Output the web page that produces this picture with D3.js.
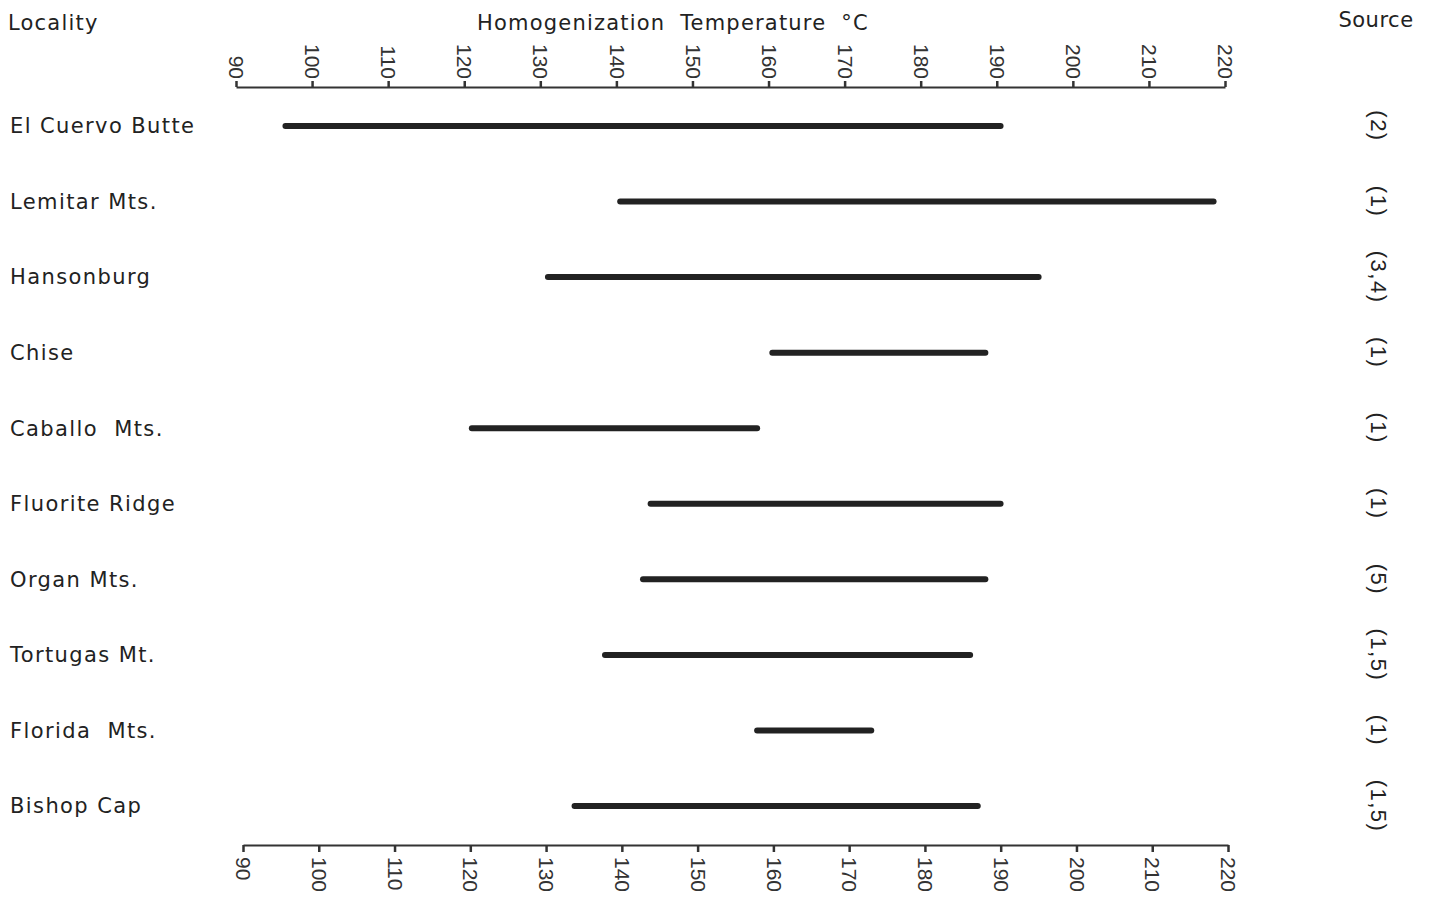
<!DOCTYPE html>
<html>
<head>
<meta charset="utf-8">
<script src="https://cdn.jsdelivr.net/npm/d3@7"></script>
<style>
body { margin: 0; background: #fff; }
text { font-family: "DejaVu Sans", "Liberation Sans", sans-serif; fill: #222; }
</style>
</head>
<body>
<div id="chart"></div>
<script>
// localities, top to bottom
var localities = ["El Cuervo Butte", "Lemitar Mts.", "Hansonburg", "Chise", "Caballo  Mts.",
	"Fluorite Ridge", "Organ Mts.", "Tortugas Mt.", "Florida  Mts.", "Bishop Cap"];
// homogenization temperature range, deg C
var lowT = [96.5, 140.5, 131, 160.5, 121, 144.5, 143.5, 138.5, 158.5, 134.5];
var highT = [190.5, 218.5, 195.5, 188.5, 158.5, 190.5, 188.5, 186.5, 173.5, 187.5];
var sources = ["(2)", "(1)", "(3,4)", "(1)", "(1)", "(1)", "(5)", "(1,5)", "(1)", "(1,5)"];
var tickVals = [90, 100, 110, 120, 130, 140, 150, 160, 170, 180, 190, 200, 210, 220];

var W = 1436, H = 900;

var svg = d3.select("#chart").append("svg")
	.attr("width", W)
	.attr("height", H);

// top and bottom axes are drawn slightly offset in the original
var x = d3.scaleLinear().domain([90, 220]).range([236, 1225]);
var xb = d3.scaleLinear().domain([90, 220]).range([243, 1228]);

var y = d3.scalePoint()
	.domain(localities)
	.range([126, 806]);

var topAxisY = 87, botAxisY = 845;

// headings
svg.append("text").attr("x", 8).attr("y", 30)
	.style("font-size", "21px").style("letter-spacing", "1.2px")
	.text("Locality");
svg.append("text").attr("x", 477).attr("y", 30)
	.style("font-size", "21px").style("letter-spacing", "1.2px").style("word-spacing", "7px")
	.text("Homogenization Temperature °C");
svg.append("text").attr("x", 1376).attr("y", 27)
	.attr("text-anchor", "middle")
	.style("font-size", "21px").style("letter-spacing", "0.5px")
	.text("Source");

// top axis
var gTop = svg.append("g")
	.attr("transform", "translate(0," + topAxisY + ")")
	.call(d3.axisTop(x).tickValues(tickVals).tickSize(6).tickSizeOuter(0));

gTop.selectAll("text")
	.attr("transform", "rotate(90)")
	.attr("x", -8)
	.attr("y", 0)
	.attr("dy", "0.35em")
	.attr("text-anchor", "end");

// bottom axis
var gBot = svg.append("g")
	.attr("transform", "translate(0," + botAxisY + ")")
	.call(d3.axisBottom(xb).tickValues(tickVals).tickSize(7).tickSizeOuter(0));

gBot.selectAll("text")
	.attr("transform", "rotate(90)")
	.attr("x", 12)
	.attr("y", 0)
	.attr("dy", "0.35em")
	.attr("text-anchor", "start");

svg.selectAll(".tick text")
	.style("font-size", "21px")
	.style("fill", "#333")
	.style("font-family", "\"Liberation Sans\", sans-serif");
svg.selectAll(".domain").attr("stroke", "#333").attr("stroke-width", 2);
svg.selectAll(".tick line").attr("stroke", "#333").attr("stroke-width", 2.5);

// locality labels
svg.append("g").selectAll("text")
	.data(localities)
	.join("text")
	.attr("x", 10)
	.attr("y", function(d) { return y(d); })
	.attr("dy", "0.35em")
	.style("font-size", "21px")
	.style("letter-spacing", "1.4px")
	.style("white-space", "pre")
	.text(function(d) { return d; });

// range bars
svg.append("g").selectAll("line")
	.data(localities)
	.join("line")
	.attr("x1", function(d, i) { return x(lowT[i]); })
	.attr("x2", function(d, i) { return x(highT[i]); })
	.attr("y1", function(d) { return y(d); })
	.attr("y2", function(d) { return y(d); })
	.attr("stroke", "#222")
	.attr("stroke-width", 6)
	.attr("stroke-linecap", "round");

// source references, written sideways
svg.append("g").selectAll("text")
	.data(localities)
	.join("text")
	.attr("transform", function(d) { return "translate(1379," + y(d) + ") rotate(90)"; })
	.attr("text-anchor", "middle")
	.attr("dy", "0.35em")
	.style("font-size", "22px")
	.style("letter-spacing", "1.5px")
	.style("font-family", "\"Liberation Sans\", sans-serif")
	.text(function(d, i) { return sources[i]; });
</script>
</body>
</html>
